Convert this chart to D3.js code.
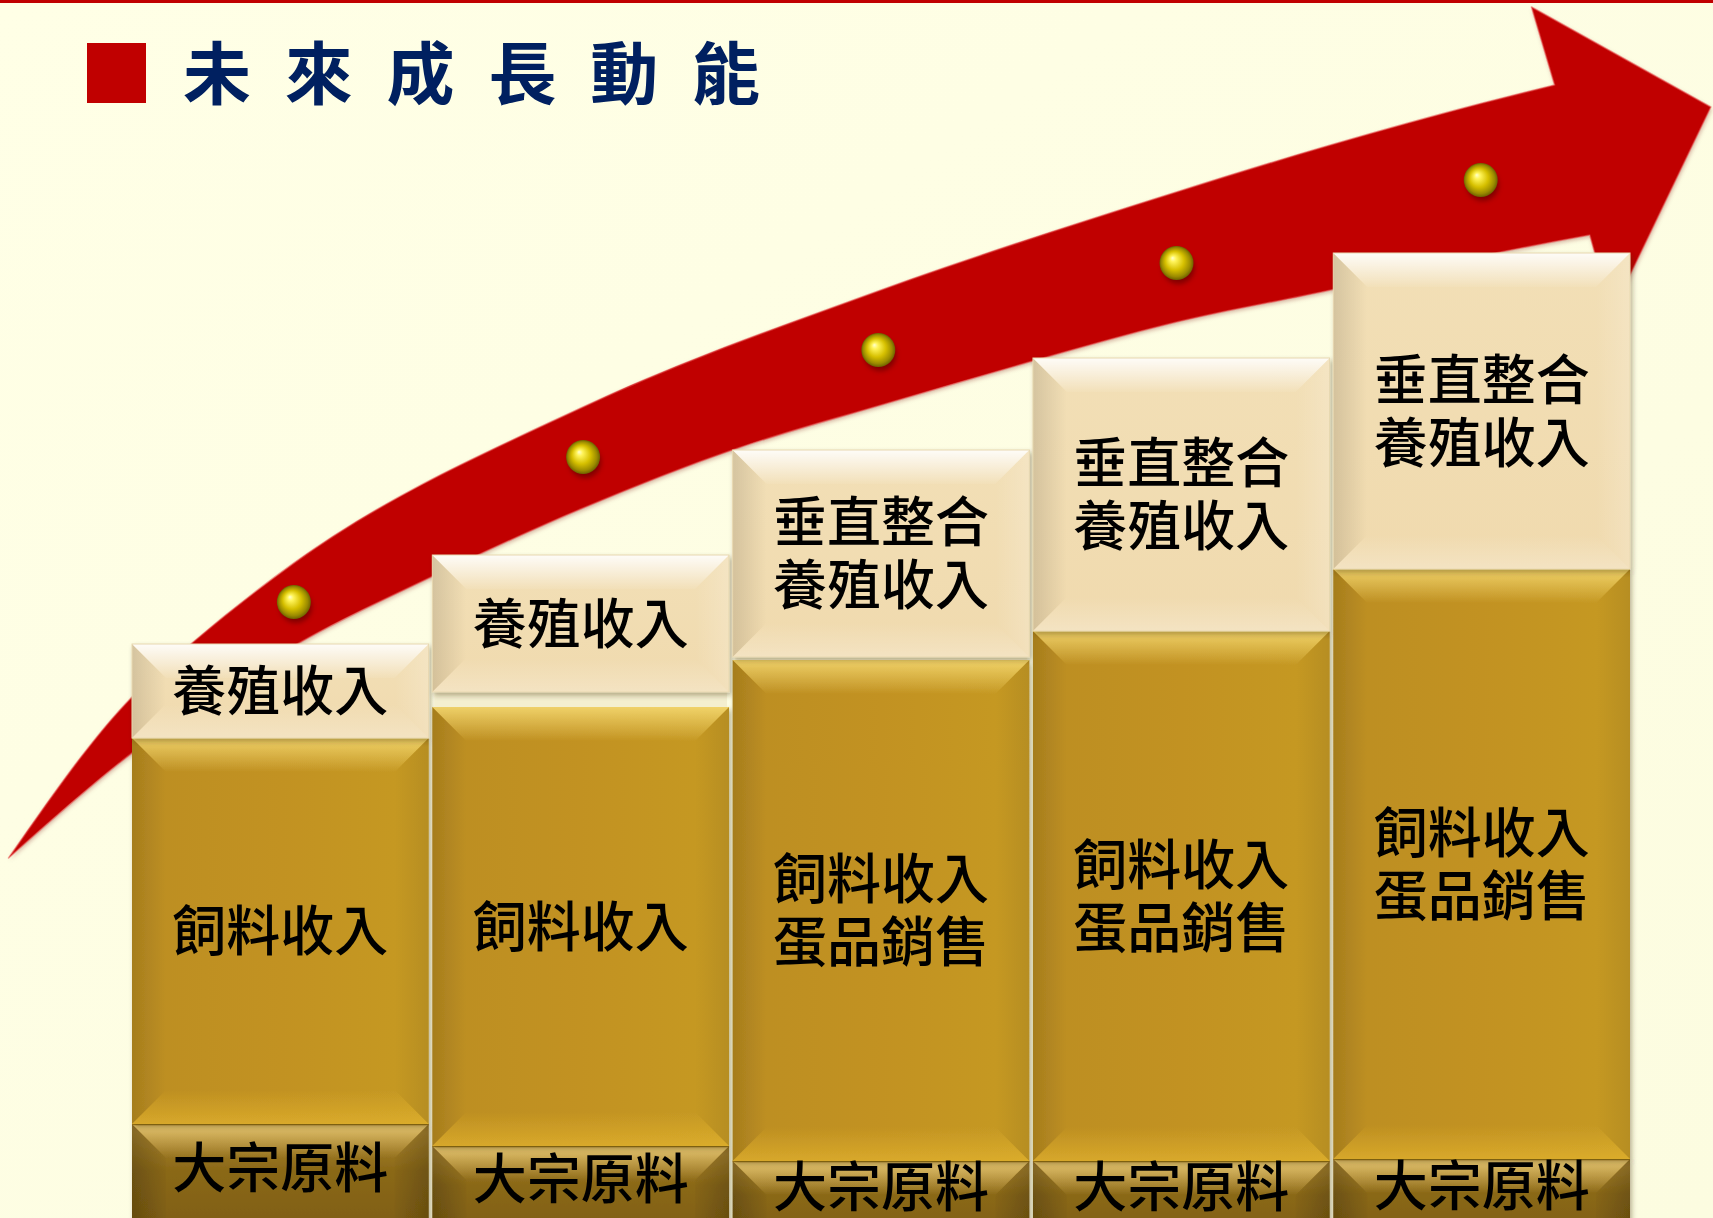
<!DOCTYPE html>
<html><head><meta charset="utf-8">
<script src="https://cdn.jsdelivr.net/npm/d3@7"></script>
<style>html,body{margin:0;padding:0;background:#FEFEE3;overflow:hidden} svg{display:block}</style>
</head><body><svg id="c" width="1713" height="1218"></svg>
<script>
// ---------- data ----------
const title = "未 來 成 長 動 能";
const stages = ["一", "二", "三", "四", "五"];
const baseLabels = ["大宗原料", "大宗原料", "大宗原料", "大宗原料", "大宗原料"];
const midLabels = [["飼料收入"], ["飼料收入"], ["飼料收入", "蛋品銷售"], ["飼料收入", "蛋品銷售"], ["飼料收入", "蛋品銷售"]];
const topLabels = [["養殖收入"], ["養殖收入"], ["垂直整合", "養殖收入"], ["垂直整合", "養殖收入"], ["垂直整合", "養殖收入"]];
const baseValues = [9.4, 7.2, 5.7, 5.7, 5.9];
const midValues = [38.6, 43.9, 50.1, 53.0, 59.0];
const gapValues = [0, 1.5, 0.3, 0, 0];
const topValues = [9.4, 13.7, 20.7, 27.3, 31.6];
const trendPos = [0.045, 1.008, 1.991, 2.984, 3.997];
const trendValues = [61.6, 76.1, 86.8, 95.5, 103.8];
// arrow outline (x in stage-index units, y in value units)
const arrowUpperIdx = [-0.905, -0.494, -0.294, 0.0455, 1.008, 1.991, 2.984, 3.497, 3.997, 4.243];
const arrowUpperVal = [36.0, 52.1, 57.5, 65.5, 81.1, 92.7, 102.6, 107.3, 111.45, 113.3];
const arrowLowerIdx = [-0.905, -0.494, 0.0621, 0.495, 1.008, 1.524, 2.0, 2.493, 2.984, 3.497, 3.997, 4.360];
const arrowLowerVal = [36.0, 46.5, 57.5, 64.0, 71.0, 77.0, 81.3, 85.6, 89.6, 92.8, 96.2, 98.3];
const arrowHeadIdx = [4.166, 4.763, 4.433];
const arrowHeadVal = [121.1, 111.1, 90.5];

// ---------- setup ----------
const W = 1713, H = 1218;
const svg = d3.select("#c");
const defs = svg.append("defs");
const FONT = "'Noto Sans CJK TC','Noto Sans CJK SC',sans-serif";

const x = d3.scaleBand().domain(stages).range([132, 1630]).paddingInner(0.012);
const y = d3.scaleLinear().domain([0, 100]).range([H, 218]);
const xi = d3.scaleLinear().domain([0, 4])
  .range([x(stages[0]) + x.bandwidth() / 2, x(stages[4]) + x.bandwidth() / 2]);

// background
const bg = defs.append("linearGradient").attr("id", "bg").attr("x1", 0).attr("y1", 0).attr("x2", 1).attr("y2", 1);
bg.append("stop").attr("offset", 0).attr("stop-color", "#FFFFE6");
bg.append("stop").attr("offset", 1).attr("stop-color", "#FCFCE0");
svg.append("rect").attr("width", W).attr("height", H).attr("fill", "url(#bg)");
svg.append("rect").attr("width", W).attr("height", 3).attr("fill", "#C00000");

// title
svg.append("rect").attr("x", 87).attr("y", 43).attr("width", 59).attr("height", 60).attr("fill", "#C00000");
svg.append("text").attr("x", 183).attr("y", 69)
  .attr("font-family", FONT).attr("font-weight", 700).attr("font-size", 68)
  .attr("fill", "#002060").attr("dominant-baseline", "central")
  .attr("textLength", 577).attr("lengthAdjust", "spacing")
  .text(title);

// gradients helpers
function lin(id, x1, y1, x2, y2, stops) {
  const g = defs.append("linearGradient").attr("id", id)
    .attr("x1", x1).attr("y1", y1).attr("x2", x2).attr("y2", y2);
  stops.forEach(s => g.append("stop").attr("offset", s[0]).attr("stop-color", s[1]).attr("stop-opacity", s[2] === undefined ? 1 : s[2]));
}
lin("bvTopW", 0, 0, 0, 1, [[0, "#fff", 0.9], [1, "#fff", 0.05]]);
lin("bvTopG", 0, 0, 0, 1, [[0, "#FFE680", 0.75], [1, "#FFE680", 0.0]]);
lin("bvTopB", 0, 0, 0, 1, [[0, "#F2D580", 0.8], [1, "#E0BE6A", 0.0]]);
lin("bvLeftD", 0, 0, 1, 0, [[0, "#000", 0.12], [1, "#000", 0.0]]);
lin("bvLeftDD", 0, 0, 1, 0, [[0, "#000", 0.22], [1, "#000", 0.02]]);
lin("bvRightL", 1, 0, 0, 0, [[0, "#fff", 0.18], [1, "#fff", 0.0]]);
lin("bvRightD", 1, 0, 0, 0, [[0, "#000", 0.08], [1, "#000", 0.0]]);
lin("bvRightDD", 1, 0, 0, 0, [[0, "#000", 0.2], [1, "#000", 0.02]]);
lin("bvBotL", 0, 1, 0, 0, [[0, "#fff", 0.25], [1, "#fff", 0.0]]);
lin("bvBotG", 0, 1, 0, 0, [[0, "#E8B830", 0.6], [1, "#E8B830", 0.0]]);
lin("baseFill", 0, 0, 0, 1, [[0, "#B08A33"], [0.35, "#8A6817"], [1, "#7A5A10"]]);
lin("midFill", 0, 0, 1, 0, [[0, "#BC8E22"], [0.5, "#C29222"], [1, "#C69A24"]]);
lin("capFill", 0, 0, 0, 1, [[0, "#F2DFB6"], [1, "#F0DAAE"]]);

const sh = defs.append("filter").attr("id", "shadow").attr("x", "-10%").attr("y", "-10%").attr("width", "130%").attr("height", "130%");
sh.append("feDropShadow").attr("dx", 2).attr("dy", 3).attr("stdDeviation", 2.5).attr("flood-color", "#3a2a00").attr("flood-opacity", 0.35);
const ash = defs.append("filter").attr("id", "ashadow").attr("x", "-10%").attr("y", "-10%").attr("width", "130%").attr("height", "130%");
ash.append("feDropShadow").attr("dx", 1).attr("dy", 2).attr("stdDeviation", 2).attr("flood-color", "#700000").attr("flood-opacity", 0.3);

// ---------- arrow ----------
const line = d3.line().x(d => xi(d[0])).y(d => y(d[1])).curve(d3.curveMonotoneX);
const upperPts = arrowUpperIdx.map((v, i) => [v, arrowUpperVal[i]]);
const lowerPts = arrowLowerIdx.map((v, i) => [v, arrowLowerVal[i]]);
const headPts = arrowHeadIdx.map((v, i) => [v, arrowHeadVal[i]]);
let dPath = line(upperPts);
headPts.forEach(p => { dPath += "L" + xi(p[0]) + "," + y(p[1]); });
dPath += "L" + line(lowerPts.slice().reverse()).slice(1) + "Z";
const ag = svg.append("g");
ag.append("path").attr("d", dPath).attr("fill", "#C00000").attr("filter", "url(#ashadow)");
ag.append("path").attr("d", dPath).attr("fill", "none").attr("stroke", "#E85050").attr("stroke-width", 1.6).attr("stroke-opacity", 0.55).attr("stroke-linejoin", "round");

// ---------- dots ----------
const rg = defs.append("radialGradient").attr("id", "ball").attr("cx", "50%").attr("cy", "50%").attr("r", "50%").attr("fx", "38%").attr("fy", "35%");
[[0, "#FFFFD0"], [0.18, "#FFF45A"], [0.55, "#D6C000"], [0.85, "#9A8A00"], [1, "#6E6000"]].forEach(s => rg.append("stop").attr("offset", s[0]).attr("stop-color", s[1]));
const dsh = defs.append("filter").attr("id", "dsh").attr("x", "-50%").attr("y", "-50%").attr("width", "200%").attr("height", "200%");
dsh.append("feGaussianBlur").attr("stdDeviation", 2.5);
const dots = svg.append("g").selectAll("g").data(trendValues).join("g");
dots.append("circle").attr("cx", (d, i) => xi(trendPos[i]) + 2).attr("cy", d => y(d) + 5).attr("r", 16).attr("fill", "#500000").attr("opacity", 0.55).attr("filter", "url(#dsh)");
dots.append("circle").attr("cx", (d, i) => xi(trendPos[i])).attr("cy", d => y(d)).attr("r", 17).attr("fill", "url(#ball)");

// ---------- columns ----------
function bevel(g, x0, y0, x1, y1, b, st) {
  const P = pts => pts.map(p => p.join(",")).join(" ");
  g.append("polygon").attr("points", P([[x0, y0], [x0 + b, y0 + b], [x0 + b, y1 - b], [x0, y1]])).attr("fill", `url(#${st.left})`);
  g.append("polygon").attr("points", P([[x1, y0], [x1 - b, y0 + b], [x1 - b, y1 - b], [x1, y1]])).attr("fill", `url(#${st.right})`);
  g.append("polygon").attr("points", P([[x0, y1], [x1, y1], [x1 - b, y1 - b], [x0 + b, y1 - b]])).attr("fill", `url(#${st.bottom})`);
  g.append("polygon").attr("points", P([[x0, y0], [x1, y0], [x1 - b, y0 + b], [x0 + b, y0 + b]])).attr("fill", `url(#${st.top})`);
}
function label(g, cx, cy, lines, size, lh) {
  const t = g.append("text").attr("font-family", FONT).attr("font-weight", 500).attr("font-size", size)
    .attr("fill", "#000").attr("text-anchor", "middle").attr("dominant-baseline", "central");
  lines.forEach((s, k) => t.append("tspan").attr("x", cx).attr("y", cy - 4 + (k - (lines.length - 1) / 2) * lh).text(s));
}

const cols = svg.append("g");
stages.forEach((s, i) => {
  const g = cols.append("g");
  const x0 = x(s), x1 = x(s) + x.bandwidth(), cx = (x0 + x1) / 2;
  const baseTop = baseValues[i];
  const midTop = baseTop + midValues[i];
  const capBot = midTop + gapValues[i];
  const capTop = capBot + topValues[i];

  // base segment (continues below the picture edge)
  const bg0 = g.append("g").attr("filter", "url(#shadow)");
  bg0.append("rect").attr("x", x0).attr("y", y(baseTop)).attr("width", x1 - x0).attr("height", y(0) - y(baseTop) + 40).attr("fill", "url(#baseFill)");
  bevel(bg0, x0, y(baseTop), x1, y(0) + 40, 34, { top: "bvTopB", left: "bvLeftDD", right: "bvRightDD", bottom: "bvBotL" });
  bg0.append("line").attr("x1", x0).attr("x2", x1).attr("y1", y(baseTop) + 0.5).attr("y2", y(baseTop) + 0.5).attr("stroke", "#9A7418").attr("stroke-width", 1.5);

  // middle segment
  const mg = g.append("g").attr("filter", "url(#shadow)");
  mg.append("rect").attr("x", x0).attr("y", y(midTop)).attr("width", x1 - x0).attr("height", y(baseTop) - y(midTop)).attr("fill", "url(#midFill)");
  bevel(mg, x0, y(midTop), x1, y(baseTop), 34, { top: "bvTopG", left: "bvLeftD", right: "bvRightD", bottom: "bvBotG" });

  // gap strip
  if (gapValues[i] > 0) {
    g.append("rect").attr("x", x0 + 2).attr("y", y(capBot)).attr("width", x1 - x0 - 4).attr("height", y(midTop) - y(capBot)).attr("fill", "#F4EFCF");
  }

  // cap segment
  const cg = g.append("g").attr("filter", "url(#shadow)");
  cg.append("rect").attr("x", x0).attr("y", y(capTop)).attr("width", x1 - x0).attr("height", y(capBot) - y(capTop)).attr("fill", "url(#capFill)");
  bevel(cg, x0, y(capTop), x1, y(capBot), 34, { top: "bvTopW", left: "bvLeftD", right: "bvRightL", bottom: "bvBotL" });
  cg.append("rect").attr("x", x0).attr("y", y(capTop)).attr("width", x1 - x0).attr("height", y(capBot) - y(capTop)).attr("fill", "none").attr("stroke", "#E8D8B0").attr("stroke-width", 1);

  // labels
  label(g, cx, (y(baseTop) + y(0)) / 2 - 3, [baseLabels[i]], 54, 63);
  label(g, cx, (y(midTop) + y(baseTop)) / 2, midLabels[i], 54, 63);
  label(g, cx, (y(capTop) + y(capBot)) / 2, topLabels[i], 54, 63);
});
</script></body></html>
